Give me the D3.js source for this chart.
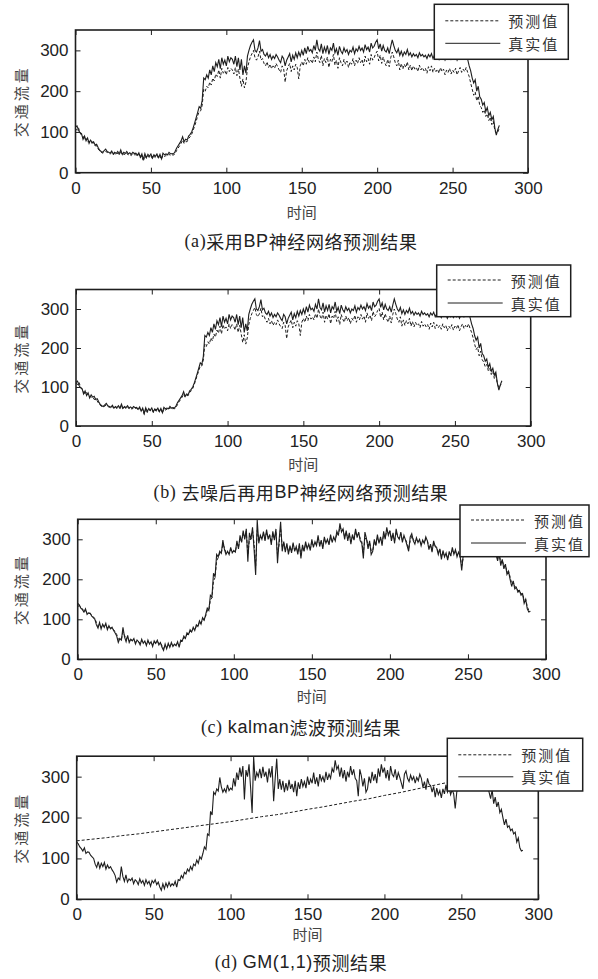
<!DOCTYPE html>
<html>
<head>
<meta charset="utf-8">
<script src="https://cdn.jsdelivr.net/npm/d3@7"></script>
<style>
  body { margin: 0; background: #fff; }
  svg { display: block; }
</style>
</head>
<body>
<script>
// tick values shared by all four panels
const xTicks = [0, 50, 100, 150, 200, 250, 300];
const yTicks = [0, 100, 200, 300];
const legendNames = ["预测值", "真实值"];
const xLabel = "时间";
const yLabel = "交通流量";

// (a)/(b) measured flow, t = 0..281
const trueAB = [
  112,115,104,98,96,82,90,78,85,72,80,74,76,68,70,62,55,52,50,54,
  58,52,50,48,53,46,50,47,52,46,56,45,50,47,52,46,49,45,50,47,
  48,43,49,38,46,32,47,37,45,40,46,36,44,40,46,37,45,34,48,44,
  46,44,50,46,47,46,52,60,66,72,78,88,76,82,80,90,94,100,110,122,
  135,148,162,158,178,232,228,240,232,252,240,262,248,270,260,278,255,282,266,276,
  262,286,272,282,278,266,286,260,282,252,278,240,262,244,286,300,312,320,326,300,
  296,306,324,298,302,290,286,294,282,290,278,286,280,290,284,276,270,286,280,262,
  276,284,292,272,288,278,294,282,296,286,300,288,306,292,310,298,302,294,312,300,
  326,304,298,316,292,308,296,312,290,306,300,318,294,304,288,310,298,292,306,296,
  302,290,300,296,308,292,304,298,310,300,306,296,314,302,308,296,318,306,310,320,
  326,304,316,298,312,300,296,306,292,310,326,312,300,294,304,288,298,286,296,290,
  302,288,294,284,292,286,290,282,294,286,290,284,288,280,290,284,292,280,288,282,
  286,278,290,282,286,276,284,280,288,278,284,280,288,276,284,290,280,286,282,290,
  278,262,250,232,220,228,200,212,186,180,166,172,150,160,140,148,130,138,110,92,106,116
];

// (a) BP prediction
const predA = [
  108,104,110,98,92,90,80,84,76,78,72,74,70,66,66,58,54,50,48,50,
  52,50,47,46,49,44,47,44,48,44,50,43,46,44,48,43,45,42,46,44,
  44,41,45,36,42,28,42,35,40,38,42,34,40,37,42,35,40,33,43,40,
  42,41,45,42,44,43,47,54,60,66,72,80,72,76,76,84,88,94,104,115,
  126,140,150,152,165,205,200,212,208,222,215,232,225,242,236,252,232,256,244,250,
  240,258,248,256,252,242,258,238,254,232,212,230,208,222,256,272,284,292,300,282,
  276,284,298,276,280,268,262,272,258,266,255,262,256,268,260,252,246,262,255,222,
  250,260,268,248,262,252,266,258,230,262,272,262,278,266,282,270,276,268,284,272,
  296,278,270,288,262,280,270,284,258,278,272,290,264,276,256,282,270,262,278,266,
  274,258,272,266,280,262,276,268,282,270,278,262,286,272,280,266,290,276,282,292,
  298,274,288,268,284,270,262,278,260,282,296,284,270,262,276,252,268,254,266,258,
  272,252,264,250,262,254,258,248,264,252,258,250,256,244,260,250,262,246,256,248,
  254,244,258,248,254,240,252,246,256,242,252,246,256,240,250,258,246,254,248,258,
  246,236,220,205,190,198,176,188,165,160,148,154,138,144,128,136,118,126,104,96,100,110
];

// (b) denoised + BP prediction
const predB = [
  110,106,112,100,94,88,82,86,78,76,74,75,68,68,64,58,53,50,49,51,
  54,50,48,46,50,45,48,45,49,45,52,43,48,45,49,44,46,43,47,45,
  45,42,46,37,43,30,44,35,42,39,43,35,41,38,43,36,42,33,44,41,
  43,42,47,43,45,44,48,55,62,68,74,82,74,78,78,86,90,96,106,118,
  130,142,154,154,168,210,204,216,210,226,218,236,228,246,238,256,236,260,248,254,
  244,262,250,260,256,246,262,240,258,236,214,234,210,226,260,276,288,296,304,286,
  280,288,302,280,284,272,266,276,262,270,258,266,260,272,262,255,250,266,258,224,
  254,264,272,252,266,256,270,262,232,266,276,266,282,270,286,274,280,272,288,276,
  300,282,274,292,266,284,274,288,262,282,276,294,268,280,260,286,274,266,282,270,
  278,262,276,270,284,266,280,272,286,274,282,266,290,276,284,270,294,280,286,296,
  302,278,292,272,288,274,266,282,264,286,300,288,274,266,280,256,272,258,270,262,
  276,256,268,254,266,258,262,252,268,256,262,254,260,248,264,254,266,250,260,252,
  258,248,262,252,258,244,256,250,260,246,256,250,260,244,254,262,250,258,252,262,
  250,240,226,210,196,202,180,192,170,164,152,158,142,148,132,140,122,130,108,98,104,112
];

// (c)/(d) measured flow, t = 0..290
const trueCD = [
  140,136,128,124,118,126,112,116,115,108,104,100,86,78,92,76,88,80,90,74,
  84,76,80,72,66,58,42,52,48,80,56,44,60,42,50,46,52,38,48,44,
  36,50,40,46,34,48,38,44,32,46,40,48,36,42,30,22,38,26,40,30,
  42,32,38,34,44,30,48,46,58,52,66,62,74,68,80,72,86,82,96,88,
  104,98,112,128,122,160,156,215,206,262,256,270,265,298,275,262,270,262,280,266,
  272,268,296,276,310,292,322,300,326,244,316,300,330,274,211,348,290,310,300,319,
  296,324,300,312,286,320,298,326,240,296,344,270,294,268,290,262,284,266,292,270,
  282,262,290,252,286,270,294,276,288,272,300,280,294,284,310,282,298,276,306,290,
  300,286,312,292,306,296,320,310,340,318,326,300,322,296,316,288,312,298,326,304,
  318,296,290,252,318,302,276,296,262,270,300,284,312,290,306,284,320,300,330,310,
  322,296,316,290,326,306,300,318,292,310,298,284,270,306,314,296,288,304,292,300,
  284,298,290,306,296,274,288,268,296,282,278,262,276,250,272,256,266,248,270,258,
  280,262,274,256,268,258,222,262,276,268,284,272,290,280,298,286,276,292,284,296,
  288,300,286,296,290,298,284,276,262,246,268,234,250,226,238,212,220,200,182,196,
  176,180,168,172,160,164,140,150,126,118,120
];

// (c) kalman prediction
const predC = [
  132,134,130,126,121,122,116,115,114,110,106,102,92,84,88,80,85,82,86,78,
  82,78,79,74,69,62,50,52,50,68,60,50,56,46,49,47,50,42,46,44,
  40,46,42,44,38,44,40,42,36,42,40,45,39,41,34,27,34,29,36,32,
  38,34,37,35,41,34,44,45,54,53,62,62,70,69,77,74,82,82,92,89,
  100,98,108,122,122,148,154,196,204,246,254,266,265,288,279,266,268,264,275,268,
  270,269,288,280,302,295,315,304,320,262,300,300,322,288,234,322,300,306,302,314,
  300,318,304,310,292,314,302,318,262,286,328,282,290,274,286,268,280,270,287,274,
  280,268,284,260,280,272,288,279,286,276,294,284,291,286,304,288,295,282,300,293,
  298,290,305,296,302,298,314,310,332,322,324,306,318,302,312,294,307,300,320,308,
  315,302,294,266,302,302,284,292,272,271,292,286,304,294,302,290,312,304,322,314,
  320,302,312,296,318,308,302,314,298,306,300,290,276,296,308,300,292,300,294,298,
  288,295,291,301,297,280,286,272,290,284,280,268,274,256,268,259,264,252,265,260,
  274,265,271,260,266,260,234,254,268,268,280,274,286,282,294,288,280,289,285,293,
  289,297,289,294,291,296,288,280,268,252,262,242,248,232,236,218,220,206,190,194,
  182,180,172,172,164,164,148,150,132,122,120
];

// (d) GM(1,1) prediction, read every 10 steps
const gmX = [0,10,20,30,40,50,60,70,80,90,100,110,120,130,140,150,160,170,180,190,200,210,220,230,240,250,260,270,280,290];
const gmPred = [143,147,151,156,160,165,170,175,180,185,190,196,202,207,213,220,226,233,240,246,254,261,269,277,285,293,302,311,320,329];

// caption pieces: [text, font]
const captions = [
  [["(a)", "serif"], ["采用", "cjk"], ["BP", "sans"], ["神经网络预测结果", "cjk"]],
  [["(b) ", "serif"], ["去噪后再用", "cjk"], ["BP", "sans"], ["神经网络预测结果", "cjk"]],
  [["(c) ", "serif"], ["kalman", "sans"], ["滤波预测结果", "cjk"]],
  [["(d) ", "serif"], ["GM(1,1)", "sans"], ["预测结果", "cjk"]]
];

const fonts = {
  serif: "'Liberation Serif', 'Times New Roman', serif",
  sans: "'Liberation Sans', Arial, sans-serif",
  cjk: "'Noto Sans CJK SC', sans-serif"
};

const width = 598, height = 979;
const ink = "#1e1e1e";

const panels = [
  { left: 75.5, right: 528, top: 30, bottom: 172.7, truth: trueAB, pred: predA, predX: null,
    legend: { x: 434.3, y: 4.3, w: 134, h: 55, r1: 16.5, r2: 39 }, xlabY: 211, capY: 240.5 },
  { left: 76, right: 530.7, top: 289.5, bottom: 426, truth: trueAB, pred: predB, predX: null,
    legend: { x: 436.7, y: 265, w: 134, h: 51.7, r1: 15, r2: 38 }, xlabY: 463, capY: 492 },
  { left: 77.7, right: 546, top: 519.3, bottom: 659.3, truth: trueCD, pred: predC, predX: null,
    legend: { x: 460, y: 505, w: 129, h: 51.7, r1: 15, r2: 38 }, xlabY: 695, capY: 727 },
  { left: 76.7, right: 538.3, top: 756.2, bottom: 899.3, truth: trueCD, pred: gmPred, predX: gmX,
    legend: { x: 447.3, y: 738.3, w: 135.4, h: 52.7, r1: 16.5, r2: 38.5 }, xlabY: 933, capY: 962 }
];

const svg = d3.select('body').append('svg')
  .attr('width', width)
  .attr('height', height)
  .style('background', '#fff');

panels.forEach((p, k) => {
  const x = d3.scaleLinear().domain([0, 300]).range([p.left, p.right]);
  const y = d3.scaleLinear().domain([0, 350]).range([p.bottom, p.top]);

  const g = svg.append('g');

  // data lines
  const line = d3.line().x((d, i) => x(i)).y(d => y(d));
  const predLine = d3.line()
    .x((d, i) => x(p.predX ? p.predX[i] : i))
    .y(d => y(d));

  g.append('path')
    .datum(p.pred)
    .attr('d', predLine)
    .attr('fill', 'none')
    .attr('stroke', ink)
    .attr('stroke-width', 1)
    .attr('stroke-dasharray', '3,2');

  g.append('path')
    .datum(p.truth)
    .attr('d', line)
    .attr('fill', 'none')
    .attr('stroke', ink)
    .attr('stroke-width', 1.1);

  // axes, ticks pointing inward on all four sides
  const tickStyle = sel => {
    sel.select('.domain').remove();
    sel.selectAll('line').attr('stroke', ink).attr('stroke-width', 1);
    sel.selectAll('text')
      .attr('fill', '#222')
      .style('font-family', fonts.sans)
      .style('font-size', '17px');
  };

  g.append('g')
    .attr('transform', `translate(0,${p.bottom})`)
    .call(d3.axisBottom(x).tickValues(xTicks).tickSizeInner(-5).tickSizeOuter(0).tickPadding(9))
    .call(tickStyle);

  g.append('g')
    .attr('transform', `translate(0,${p.top})`)
    .call(d3.axisTop(x).tickValues(xTicks).tickSizeInner(-5).tickSizeOuter(0).tickFormat(''))
    .call(tickStyle);

  g.append('g')
    .attr('transform', `translate(${p.left},0)`)
    .call(d3.axisLeft(y).tickValues(yTicks).tickSizeInner(-5).tickSizeOuter(0).tickPadding(7))
    .call(tickStyle);

  g.append('g')
    .attr('transform', `translate(${p.right},0)`)
    .call(d3.axisRight(y).tickValues(yTicks).tickSizeInner(-5).tickSizeOuter(0).tickFormat(''))
    .call(tickStyle);

  // frame
  g.append('rect')
    .attr('x', p.left)
    .attr('y', p.top)
    .attr('width', p.right - p.left)
    .attr('height', p.bottom - p.top)
    .attr('fill', 'none')
    .attr('stroke', ink)
    .attr('stroke-width', 1.6);

  // axis titles
  g.append('text')
    .attr('x', (p.left + p.right) / 2)
    .attr('y', p.xlabY)
    .attr('text-anchor', 'middle')
    .attr('dominant-baseline', 'central')
    .attr('fill', '#444')
    .style('font-family', fonts.cjk)
    .style('font-size', '15px')
    .text(xLabel);

  g.append('text')
    .attr('transform', `translate(20,${(p.top + p.bottom) / 2}) rotate(-90)`)
    .attr('text-anchor', 'middle')
    .attr('dominant-baseline', 'central')
    .attr('fill', '#444')
    .style('font-family', fonts.cjk)
    .style('font-size', '15px')
    .style('letter-spacing', '3px')
    .text(yLabel);

  // legend
  const L = p.legend;
  const lg = g.append('g').attr('transform', `translate(${L.x},${L.y})`);
  lg.append('rect')
    .attr('width', L.w)
    .attr('height', L.h)
    .attr('fill', '#fff')
    .attr('stroke', ink)
    .attr('stroke-width', 1.5);
  [L.r1, L.r2].forEach((ry, j) => {
    lg.append('line')
      .attr('x1', 11).attr('x2', 66)
      .attr('y1', ry).attr('y2', ry)
      .attr('stroke', ink)
      .attr('stroke-width', 1)
      .attr('stroke-dasharray', j === 0 ? '3,2' : null);
    lg.append('text')
      .attr('x', 74)
      .attr('y', ry)
      .attr('dominant-baseline', 'central')
      .attr('fill', '#333')
      .style('font-family', fonts.cjk)
      .style('font-size', '15px')
      .style('letter-spacing', '2px')
      .text(legendNames[j]);
  });

  // caption
  const cap = svg.append('text')
    .attr('x', 301)
    .attr('y', p.capY)
    .attr('text-anchor', 'middle')
    .attr('dominant-baseline', 'central')
    .attr('fill', '#222')
    .style('font-size', '18px')
    .style('letter-spacing', '0.6px');
  captions[k].forEach(([t, f]) => {
    cap.append('tspan').style('font-family', fonts[f]).text(t);
  });
});
</script>
</body>
</html>
